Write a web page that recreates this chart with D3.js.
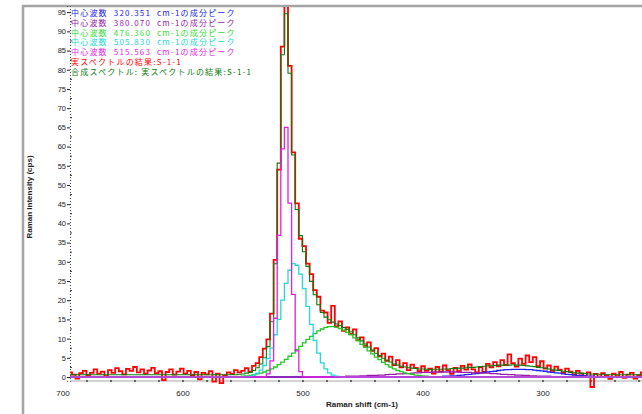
<!DOCTYPE html>
<html>
<head>
<meta charset="utf-8">
<script src="https://cdn.jsdelivr.net/npm/d3@7"></script>
<style>
    html, body { margin: 0; padding: 0; background: #fff; }
    svg { display: block; font-family: "Liberation Sans", Arial, sans-serif; }
</style>
</head>
<body>
<div id="chart"></div>
<script>
// raman shift grid (cm-1), the spectrum is sampled every 3 cm-1 from 700 down to 214
var shiftFrom = 700, shiftTo = 214, shiftStep = 3;

var xTicks = [700, 600, 500, 400, 300];
var yTicks = [0, 5, 10, 15, 20, 25, 30, 35, 40, 45, 50, 55, 60, 65, 70, 75, 80, 85, 90, 95];

// measured spectrum (red), one value per grid point
var measured = [
    0.8, 0.3, 1.2, 0.6, -0.4, 1.0, 1.6, 0.4, 1.1, 2.0,
    0.9, 1.4, 0.2, 1.8, 1.1, 2.3, 1.5, 0.7, 2.1, 1.6,
    2.6, 1.2, 2.0, 0.9, 1.7, 2.4, 1.0, 1.5, -0.8, 1.3,
    2.0, 0.6, 1.4, 2.2, 0.9, 1.6, 0.5, 1.3, -0.6, 1.1,
    0.7, 1.5, -1.2, 0.9, -1.6, 0.4, 1.2, 0.8, 1.8, 1.2,
    1.6, 2.3, 1.4, 2.9, 3.6, 5.2, 7.4, 9.8, 16.5, 30.5,
    54.0, 86.0, 97.5, 81.0, 58.5, 45.2, 36.0, 34.1, 29.5, 26.8,
    22.6, 20.9, 17.3, 16.8, 14.1, 18.5, 13.2, 14.5, 12.0, 12.9,
    11.2, 12.4, 9.6, 10.3, 8.1, 9.0, 6.8, 7.5, 5.4, 6.1,
    4.2, 5.3, 3.1, 4.4, 2.5, 3.6, 1.8, 3.2, 2.4, 1.5,
    2.8, 1.6, 2.2, 0.9, 2.6, 1.4, 3.0, 1.8, 0.8, 2.4,
    1.5, 2.9, 1.9, 3.3, 2.0, 1.2, 2.6, 1.3, 3.4, 2.5,
    3.9, 2.8, 4.4, 3.1, 5.9, 3.6, 2.7, 4.8, 3.4, 5.6,
    3.9, 5.2, 2.8, 4.1, 2.2, 3.0, 1.6, 2.7, 1.9, 1.1,
    2.2, 1.4, 0.7, 1.6, 0.9, 0.3, 1.2, -2.6, 0.8, 0.1,
    1.0, 0.4, -0.5, 0.9, 0.2, 1.3, -0.2, 0.6, 1.1, -0.4,
    0.5, 1.2, 0.3
];

// composite (fitted) spectrum (dark green), one value per grid point
var fitted = [
    0.6, 0.6, 0.6, 0.6, 0.6, 0.6, 0.6, 0.6, 0.6, 0.6,
    0.6, 0.6, 0.6, 0.6, 0.6, 0.6, 0.6, 0.6, 0.6, 0.6,
    0.6, 0.6, 0.6, 0.6, 0.6, 0.6, 0.6, 0.6, 0.6, 0.6,
    0.6, 0.6, 0.6, 0.6, 0.6, 0.6, 0.6, 0.6, 0.6, 0.6,
    0.6, 0.6, 0.6, 0.6, 0.6, 0.6, 0.6, 0.6, 0.6, 0.7,
    0.8, 1.0, 1.2, 1.7, 2.4, 3.4, 5.0, 7.9, 14.4, 29.5,
    55.7, 83.9, 94.6, 79.1, 57.8, 43.6, 36.8, 32.6, 28.8, 24.9,
    21.4, 18.8, 16.8, 15.6, 14.9, 14.3, 13.8, 13.4, 12.9, 12.4,
    11.8, 11.0, 10.2, 9.4, 8.6, 7.8, 7.0, 6.2, 5.6, 4.9,
    4.4, 3.9, 3.4, 3.1, 2.8, 2.6, 2.4, 2.3, 2.2, 2.1,
    2.1, 2.0, 1.9, 2.0, 2.0, 2.0, 2.1, 2.1, 2.2, 2.2,
    2.3, 2.3, 2.4, 2.5, 2.5, 2.6, 2.7, 2.8, 2.9, 2.9,
    3.0, 3.1, 3.1, 3.2, 3.1, 3.2, 3.1, 3.1, 3.0, 2.9,
    2.8, 2.7, 2.5, 2.4, 2.3, 2.1, 1.9, 1.8, 1.7, 1.5,
    1.4, 1.2, 1.1, 1.0, 1.0, 0.9, 0.8, 0.8, 0.7, 0.7,
    0.7, 0.6, 0.6, 0.6, 0.6, 0.6, 0.6, 0.6, 0.6, 0.6,
    0.6, 0.6, 0.6
];

// component peaks, each given from its first grid shift onwards (zero elsewhere)
var blueStart = 391;
var bluePeak = [
    0.1, 0.1, 0.1, 0.2, 0.2, 0.3, 0.3, 0.4, 0.5, 0.6,
    0.7, 0.8, 0.9, 1.0, 1.2, 1.3, 1.4, 1.5, 1.7, 1.8,
    1.9, 1.9, 2.0, 2.0, 2.0, 2.0, 1.9, 1.9, 1.8, 1.7,
    1.6, 1.5, 1.3, 1.2, 1.1, 1.0, 0.8, 0.7, 0.6, 0.5,
    0.4, 0.4, 0.3, 0.2, 0.2, 0.1, 0.1, 0.1
];
var purpleStart = 478;
var purplePeak = [
    0.1, 0.1, 0.1, 0.1, 0.1, 0.2, 0.2, 0.2, 0.2, 0.3,
    0.3, 0.4, 0.4, 0.4, 0.5, 0.5, 0.6, 0.7, 0.7, 0.8,
    0.8, 0.9, 0.9, 1.0, 1.1, 1.1, 1.2, 1.2, 1.2, 1.3,
    1.3, 1.3, 1.3, 1.3, 1.3, 1.3, 1.3, 1.2, 1.2, 1.2,
    1.1, 1.1, 1.1, 1.0, 1.0, 0.9, 0.9, 0.8, 0.7, 0.7,
    0.6, 0.6, 0.5, 0.5, 0.4, 0.4, 0.3, 0.3, 0.2, 0.2,
    0.2, 0.2, 0.1, 0.1, 0.1, 0.1, 0.1
];
var greenStart = 553;
var greenPeak = [
    0.1, 0.2, 0.3, 0.4, 0.6, 0.8, 1.0, 1.3, 1.7, 2.1,
    2.6, 3.2, 3.9, 4.6, 5.4, 6.2, 7.1, 8.0, 8.9, 9.8,
    10.6, 11.3, 12.0, 12.5, 12.9, 13.1, 13.1, 12.9, 12.6, 12.2,
    11.6, 11.0, 10.2, 9.4, 8.5, 7.7, 6.8, 6.0, 5.2, 4.5,
    3.8, 3.2, 2.6, 2.1, 1.7, 1.4, 1.1, 0.9, 0.7, 0.5,
    0.4, 0.3, 0.2, 0.1
];
var cyanStart = 547;
var cyanPeak = [
    0.1, 0.2, 0.5, 1.0, 1.8, 3.0, 4.8, 7.5, 11.0, 15.0,
    20.0, 24.4, 27.8, 29.5, 29.1, 26.8, 23.0, 18.4, 13.7, 9.5,
    6.2, 3.7, 2.1, 1.1, 0.5, 0.2, 0.1
];
var magentaStart = 532;
var magentaPeak = [0.1, 0.8, 4.2, 15.3, 36.9, 59.4, 65.0, 45.3, 21.5, 6.8, 1.4, 0.1];

var legendLabels = [
    "中心波数  320.351  cm-1の成分ピーク",
    "中心波数  380.070  cm-1の成分ピーク",
    "中心波数  476.360  cm-1の成分ピーク",
    "中心波数  505.830  cm-1の成分ピーク",
    "中心波数  515.563  cm-1の成分ピーク",
    "実スペクトルの結果:S-1-1",
    "合成スペクトル: 実スペクトルの結果:S-1-1"
];
var legendColors = ["#2222ee", "#9a1aa8", "#33dd33", "#22d8d8", "#e825e8", "#ff0000", "#0b7a0b"];

var width = 642, height = 414;
var svg = d3.select("#chart").append("svg")
    .attr("width", width)
    .attr("height", height);

var plot = { left: 70, right: 642, top: 6, bottom: 381 };

var x = d3.scaleLinear().domain([700, 214]).range([63, 646.2]);
var y = d3.scaleLinear().domain([-1.04, 96.6]).range([plot.bottom, plot.top]);

var shifts = d3.range(shiftFrom, shiftTo - 1, -shiftStep);

var onGrid = function(start, vals) {
    return shifts.map(function(s) {
        var k = Math.round((start - s) / shiftStep);
        return k >= 0 && k < vals.length ? vals[k] : 0;
    });
};

// outer frame (only left and top visible in the crop)
svg.append("line").attr("x1", 23).attr("x2", 23).attr("y1", 5).attr("y2", height)
    .attr("stroke", "#a4a4a4").attr("stroke-width", 2.5);
svg.append("line").attr("x1", 22).attr("x2", width).attr("y1", 6).attr("y2", 6)
    .attr("stroke", "#a4a4a4").attr("stroke-width", 2.5);

svg.append("defs").append("clipPath").attr("id", "clip")
    .append("rect")
    .attr("x", plot.left).attr("y", plot.top + 1)
    .attr("width", plot.right - plot.left).attr("height", height - plot.top);

// x axis
var xAxis = svg.append("g").attr("transform", "translate(0," + plot.bottom + ")");
xAxis.append("line").attr("x1", plot.left).attr("x2", plot.right)
    .attr("stroke", "#c4c4c4").attr("stroke-width", 1.5);
xAxis.selectAll(".minor").data(d3.range(680, 214, -20))
    .enter().append("circle")
    .attr("cx", function(d) { return x(d); })
    .attr("cy", 0).attr("r", 0.9).attr("fill", "#333");
xAxis.selectAll(".lbl").data(xTicks)
    .enter().append("text")
    .attr("x", function(d) { return x(d); })
    .attr("y", 15)
    .attr("text-anchor", "middle")
    .attr("font-size", 8)
    .attr("fill", "#222")
    .text(function(d) { return d; });

// y axis
var yAxis = svg.append("g").attr("transform", "translate(" + plot.left + ",0)")
    .call(d3.axisLeft(y).tickValues(yTicks).tickSize(3).tickPadding(1));
yAxis.select(".domain").attr("stroke", "#444").attr("stroke-dasharray", "1,2");
yAxis.selectAll(".tick line").attr("stroke", "#222");
yAxis.selectAll(".tick text").attr("font-size", 7.5).attr("fill", "#222")
    .attr("font-family", "Liberation Sans, Arial, sans-serif");
yAxis.selectAll(".minorTick").data(d3.range(2.5, 96, 5))
    .enter().append("line").attr("class", "minorTick")
    .attr("x1", 0).attr("x2", 2)
    .attr("y1", function(d) { return y(d); })
    .attr("y2", function(d) { return y(d); })
    .attr("stroke", "#333");

// axis titles
svg.append("text")
    .attr("transform", "translate(32,197) rotate(-90)")
    .attr("text-anchor", "middle")
    .attr("font-size", 8)
    .attr("font-weight", "bold")
    .attr("fill", "#222")
    .text("Raman Intensity (cps)");
svg.append("text")
    .attr("x", 362).attr("y", 407)
    .attr("text-anchor", "middle")
    .attr("font-size", 8)
    .attr("font-weight", "bold")
    .attr("fill", "#222")
    .text("Raman shift (cm-1)");

// series
var line = d3.line()
    .x(function(d, i) { return x(shifts[i]); })
    .y(function(d) { return y(d); })
    .curve(d3.curveStep);

var graph = svg.append("g").attr("clip-path", "url(#clip)");

graph.append("path").datum(measured)
    .attr("fill", "none").attr("stroke", "#ff0000").attr("stroke-width", 1.8)
    .attr("d", line);

graph.append("path").datum(fitted)
    .attr("fill", "none").attr("stroke", "#0b7a0b").attr("stroke-width", 1.1)
    .attr("d", line);

var components = [
    { vals: onGrid(blueStart, bluePeak), color: "#2222ee" },
    { vals: onGrid(purpleStart, purplePeak), color: "#9a1aa8" },
    { vals: onGrid(greenStart, greenPeak), color: "#22c822" },
    { vals: onGrid(cyanStart, cyanPeak), color: "#22d8d8" },
    { vals: onGrid(magentaStart, magentaPeak), color: "#e020e0" }
];
components.forEach(function(c) {
    graph.append("path").datum(c.vals)
        .attr("fill", "none").attr("stroke", c.color).attr("stroke-width", 1.3)
        .attr("d", line);
});

// legend
svg.selectAll(".legend").data(legendLabels)
    .enter().append("text")
    .attr("class", "legend")
    .attr("x", 71)
    .attr("y", function(d, i) { return 16 + i * 9.8; })
    .attr("font-size", 8)
    .attr("letter-spacing", 1.2)
    .attr("font-family", "Noto Sans CJK JP, sans-serif")
    .attr("fill", function(d, i) { return legendColors[i]; })
    .style("white-space", "pre")
    .text(function(d) { return d; });
</script>
</body>
</html>
